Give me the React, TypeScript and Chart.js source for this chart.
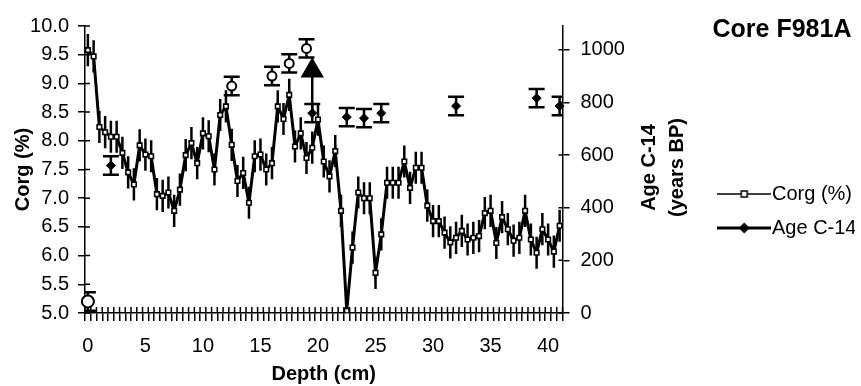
import React, { useEffect, useRef } from "react";
import { Chart, registerables } from "chart.js";

Chart.register(...registerables);

const FONT = "'Liberation Sans', Arial, Helvetica, sans-serif";

const TITLE = "Core F981A";

// Depth categories (cm)
const DEPTHS = [
  0, 0.5, 1, 1.5, 2, 2.5, 3, 3.5, 4, 4.5, 5, 5.5, 6, 6.5, 7, 7.5, 8, 8.5, 9, 9.5,
  10, 10.5, 11, 11.5, 12, 12.5, 13, 13.5, 14, 14.5, 15, 15.5, 16, 16.5, 17, 17.5, 18, 18.5, 19, 19.5,
  20, 20.5, 21, 21.5, 22, 22.5, 23, 23.5, 24, 24.5, 25, 25.5, 26, 26.5, 27, 27.5, 28, 28.5, 29, 29.5,
  30, 30.5, 31, 31.5, 32, 32.5, 33, 33.5, 34, 34.5, 35, 35.5, 36, 36.5, 37, 37.5, 38, 38.5, 39, 39.5,
  40, 40.5, 41,
];

// Organic carbon (%)
const CORG = [
  9.58, 9.47, 8.24, 8.15, 8.07, 8.07, 7.79, 7.45, 7.24, 7.92,
  7.76, 7.73, 7.07, 7.04, 7.1, 6.78, 7.15, 7.75, 7.96, 7.61,
  8.13, 8.08, 7.5, 8.45, 8.6, 7.93, 7.3, 7.44, 6.92, 7.73,
  7.76, 7.5, 7.61, 8.6, 8.38, 8.8, 7.9, 8.13, 7.7, 7.88,
  8.37, 7.64, 7.38, 7.82, 6.78, 5.04, 6.14, 7.1, 7.0, 7.0,
  5.7, 6.37, 7.27, 7.27, 7.27, 7.64, 7.18, 7.53, 7.53, 6.87,
  6.6, 6.6, 6.4, 6.23, 6.31, 6.43, 6.28, 6.31, 6.34, 6.74,
  6.78, 6.22, 6.67, 6.46, 6.26, 6.31, 6.78, 6.28, 6.05, 6.46,
  6.28, 6.07, 6.52,
];
const CORG_ERR = 0.28;

// Age C-14 (years BP), filled diamonds
const AGE_DEPTHS = [2, 19.5, 22.5, 24, 25.5, 32, 39, 41];
const AGE_VALUES = [560, 759, 744, 740, 759, 786, 816, 786];
const AGE_ERR = 35;

// Other age determinations (open circles)
const OTHER_DEPTHS = [0, 12.5, 16, 17.5, 19];
const OTHER_VALUES = [44, 862, 900, 948, 1005];

// Arrow at 19.5 cm
const ARROW_DEPTH = 19.5;
const ARROW_FROM = 759;
const ARROW_TO = 920;

const CORG_MIN = 5;
const CORG_MAX = 10;
const AGE_MIN = 0;
const AGE_MAX = 1090;

function makeLegendImage(kind: string) {
  const c = document.createElement("canvas");
  c.width = 54;
  c.height = 14;
  const g = c.getContext("2d")!;
  g.strokeStyle = "#000";
  g.lineWidth = kind === "corg" ? 1.6 : 3;
  g.beginPath();
  g.moveTo(0, 7);
  g.lineTo(54, 7);
  g.stroke();
  if (kind === "corg") {
    g.fillStyle = "#fff";
    g.fillRect(24, 4, 6, 6);
    g.lineWidth = 1.5;
    g.strokeRect(24, 4, 6, 6);
  } else {
    g.fillStyle = "#000";
    g.beginPath();
    g.moveTo(27, 1.5);
    g.lineTo(32.5, 7);
    g.lineTo(27, 12.5);
    g.lineTo(21.5, 7);
    g.closePath();
    g.fill();
  }
  return c;
}

const errorBarsPlugin = {
  id: "errorBars",
  beforeDatasetsDraw(chart: any) {
    const { ctx, chartArea } = chart;
    ctx.save();
    ctx.beginPath();
    ctx.rect(chartArea.left, chartArea.top - 20, chartArea.right - chartArea.left, chartArea.bottom - chartArea.top + 20);
    ctx.clip();
    chart.data.datasets.forEach((ds: any, di: number) => {
      const eb = ds.errorBar;
      if (!eb) return;
      const meta = chart.getDatasetMeta(di);
      const scale = chart.scales[meta.yAxisID];
      ctx.strokeStyle = "#000";
      ctx.lineWidth = eb.lineWidth;
      meta.data.forEach((el: any, i: number) => {
        const raw = ds.data[i];
        const v = typeof raw === "number" ? raw : raw && raw.y;
        if (v == null) return;
        const x = el.x;
        const y1 = scale.getPixelForValue(v + eb.value);
        const y2 = scale.getPixelForValue(v - eb.value);
        ctx.beginPath();
        ctx.moveTo(x, y1);
        ctx.lineTo(x, y2);
        if (eb.cap) {
          ctx.moveTo(x - eb.cap, y1);
          ctx.lineTo(x + eb.cap, y1);
          ctx.moveTo(x - eb.cap, y2);
          ctx.lineTo(x + eb.cap, y2);
        }
        ctx.stroke();
      });
    });
    ctx.restore();
  },
};

const crossTicksPlugin = {
  id: "crossTicks",
  afterDraw(chart: any) {
    const { ctx } = chart;
    const { x, y, y2 } = chart.scales;
    ctx.save();
    ctx.strokeStyle = "#000";
    ctx.lineWidth = 1.5;
    ctx.beginPath();
    const n = DEPTHS.length;
    const w = (x.right - x.left) / n;
    for (let k = 0; k <= n; k++) {
      const px = x.left + k * w;
      ctx.moveTo(px, x.top);
      ctx.lineTo(px, x.top - 6);
    }
    y.ticks.forEach((t: any) => {
      const py = y.getPixelForValue(t.value);
      ctx.moveTo(y.right, py);
      ctx.lineTo(y.right + 5, py);
    });
    y2.ticks.forEach((t: any) => {
      const py = y2.getPixelForValue(t.value);
      ctx.moveTo(y2.left, py);
      ctx.lineTo(y2.left - 4, py);
    });
    ctx.stroke();
    ctx.restore();
  },
};

const titlesPlugin = {
  id: "sideTitles",
  afterDraw(chart: any) {
    const { ctx, chartArea } = chart;
    ctx.save();
    ctx.fillStyle = "#000";
    // chart title above the legend
    ctx.font = `bold 25px ${FONT}`;
    ctx.textAlign = "left";
    ctx.textBaseline = "middle";
    ctx.fillText(TITLE, chart.legend.left, 30);
    // secondary axis title (reads bottom to top)
    const cy = (chartArea.top + chartArea.bottom) / 2 - 2;
    ctx.font = `bold 20px ${FONT}`;
    ctx.textAlign = "center";
    const lines = ["Age C-14", "(years BP)"];
    const offs = [87, 115];
    lines.forEach((t, i) => {
      ctx.save();
      ctx.translate(chartArea.right + offs[i], cy);
      ctx.rotate(-Math.PI / 2);
      ctx.fillText(t, 0, 0);
      ctx.restore();
    });
    ctx.restore();
  },
};

export default function App() {
  const ref = useRef<HTMLCanvasElement>(null);

  useEffect(() => {
    if (!ref.current) return;
    const imgCorg = makeLegendImage("corg");
    const imgAge = makeLegendImage("age");

    const chart = new Chart(ref.current, {
      type: "line",
      data: {
        labels: DEPTHS,
        datasets: [
          {
            label: "Corg (%)",
            data: CORG,
            yAxisID: "y",
            borderColor: "#000",
            borderWidth: 3,
            tension: 0,
            pointStyle: "rect",
            pointRadius: 3.2,
            pointBorderWidth: 1.6,
            pointBackgroundColor: "#fff",
            pointBorderColor: "#000",
            errorBar: { value: CORG_ERR, lineWidth: 2.5, cap: 0 },
          } as any,
          {
            label: "Age C-14",
            data: AGE_DEPTHS.map((d, i) => ({ x: d, y: AGE_VALUES[i] })),
            yAxisID: "y2",
            showLine: false,
            borderColor: "#000",
            pointStyle: "rectRot",
            pointRadius: 4.5,
            pointBorderWidth: 1,
            pointBackgroundColor: "#000",
            pointBorderColor: "#000",
            errorBar: { value: AGE_ERR, lineWidth: 2.5, cap: 8 },
          } as any,
          {
            label: "Other ages",
            data: OTHER_DEPTHS.map((d, i) => ({ x: d, y: OTHER_VALUES[i] })),
            yAxisID: "y2",
            showLine: false,
            borderColor: "#000",
            pointStyle: "circle",
            pointRadius: [6, 4.5, 4.5, 4.5, 4.5],
            pointBorderWidth: 2,
            pointBackgroundColor: "#fff",
            pointBorderColor: "#000",
            errorBar: { value: AGE_ERR, lineWidth: 2.5, cap: 8 },
          } as any,
          {
            label: "Arrow",
            data: [
              { x: ARROW_DEPTH, y: ARROW_FROM },
              { x: ARROW_DEPTH, y: ARROW_TO },
            ],
            yAxisID: "y2",
            showLine: true,
            borderColor: "#000",
            borderWidth: 2.5,
            pointStyle: "triangle",
            pointRadius: [0, 11],
            pointBackgroundColor: "#000",
            pointBorderColor: "#000",
          } as any,
        ],
      },
      options: {
        responsive: false,
        animation: false,
        events: [],
        layout: { padding: { left: 0, right: 6, top: 26, bottom: 0 } },
        plugins: {
          tooltip: { enabled: false },
          title: { display: false },
          legend: {
            display: true,
            position: "right",
            align: "start",
            title: {
              display: true,
              text: "",
              position: "start",
              font: { family: FONT, size: 25, weight: "bold" },
              padding: { top: 0, bottom: 114 },
            },
            labels: {
              usePointStyle: true,
              pointStyleWidth: 35.5,
              padding: 14,
              color: "#000",
              font: { family: FONT, size: 20 },
              generateLabels: () => [
                { text: "Corg (%)", pointStyle: imgCorg, datasetIndex: 0, lineWidth: 0, hidden: false, fontColor: "#000" },
                { text: "Age C-14", pointStyle: imgAge, datasetIndex: 1, lineWidth: 0, hidden: false, fontColor: "#000" },
              ],
            },
          },
        },
        scales: {
          x: {
            type: "category",
            offset: true,
            grid: { offset: true, drawOnChartArea: false, drawTicks: true, tickLength: 8, color: "#000", lineWidth: 1.5 },
            border: { color: "#000", width: 1.5 },
            ticks: {
              autoSkip: false,
              maxRotation: 0,
              minRotation: 0,
              padding: 13,
              color: "#000",
              font: { family: FONT, size: 20 },
              callback: (_v: any, i: number) => (i % 10 === 0 ? String(DEPTHS[i]) : ""),
            },
            title: {
              display: true,
              text: "Depth (cm)",
              color: "#000",
              font: { family: FONT, size: 20, weight: "bold" },
              padding: { top: 0, bottom: 0 },
            },
            afterFit: (s: any) => {
              s.height = 73;
            },
          },
          y: {
            type: "linear",
            position: "left",
            min: CORG_MIN,
            max: CORG_MAX,
            grid: { drawOnChartArea: false, tickLength: 7, color: "#000", lineWidth: 1.5 },
            border: { color: "#000", width: 1.5 },
            ticks: {
              stepSize: 0.5,
              padding: 9,
              color: "#000",
              font: { family: FONT, size: 20 },
              callback: (v: any) => Number(v).toFixed(1),
            },
            title: {
              display: true,
              text: "Corg (%)",
              color: "#000",
              font: { family: FONT, size: 20, weight: "bold" },
              padding: { top: 11, bottom: 0 },
            },
            afterFit: (s: any) => {
              s.width = 85;
            },
          },
          y2: {
            type: "linear",
            position: "right",
            min: AGE_MIN,
            max: AGE_MAX,
            grid: { drawOnChartArea: false, tickLength: 7, color: "#000", lineWidth: 1.5 },
            border: { color: "#000", width: 1.5 },
            ticks: {
              stepSize: 200,
              includeBounds: false,
              padding: 11,
              color: "#000",
              font: { family: FONT, size: 20 },
              callback: (v: any) => String(v),
            },
            afterFit: (s: any) => {
              s.width = 150;
            },
          },
        },
      } as any,
      plugins: [errorBarsPlugin, crossTicksPlugin, titlesPlugin],
    });
    return () => chart.destroy();
  }, []);

  return (
    <div style={{ position: "fixed", left: 0, top: 0, width: 861, height: 386, background: "#fff" }}>
      <canvas ref={ref} width={861} height={386} style={{ display: "block" }} />
    </div>
  );
}
